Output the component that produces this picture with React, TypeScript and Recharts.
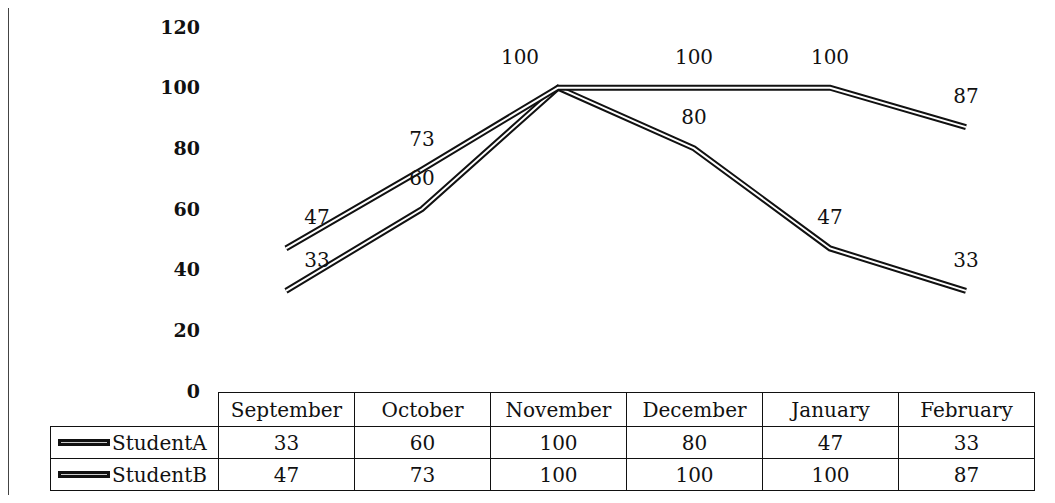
import { ComposedChart, Line, XAxis, YAxis, LabelList } from 'recharts';

const months = ['September', 'October', 'November', 'December', 'January', 'February'];
const studentA = [33, 60, 100, 80, 47, 33];
const studentB = [47, 73, 100, 100, 100, 87];
const yTicks = [0, 20, 40, 60, 80, 100, 120];

// label nudges per month, so overlapping values stay readable
const labelShift = [31, 0, -38, 0, 0, 0];

const FONT = '"DejaVu Serif", "Liberation Serif", serif';
const W = 1055;
const H = 503;
const PLOT_LEFT = 218;
const PLOT_RIGHT = 1035;
const COL_W = Math.round((PLOT_RIGHT - PLOT_LEFT) / months.length);

const data = months.map((m, i) => ({ month: m, a: studentA[i], b: studentB[i] }));

const makeLabel = (skipSameAsB: boolean) => (props: any) => {
  const { x, y, value, index } = props;
  // where both students share a value only one label is printed
  if (skipSameAsB && studentB[index] === value) return null;
  return (
    <text
      x={x + (labelShift[index] || 0)}
      y={y - 31}
      textAnchor="middle"
      dominantBaseline="central"
      fontFamily={FONT}
      fontSize={20}
      fill="#111"
    >
      {value}
    </text>
  );
};

function LegendIcon() {
  return (
    <svg width={52} height={8} style={{ display: 'block' }}>
      <rect x={0} y={0} width={52} height={7} fill="#111" />
      <rect x={3} y={3} width={46} height={1} fill="#ccc" />
    </svg>
  );
}

const cell: React.CSSProperties = {
  position: 'absolute',
  border: '1px solid #111',
  boxSizing: 'border-box',
  display: 'flex',
  alignItems: 'center',
  justifyContent: 'center',
  fontFamily: FONT,
  fontSize: 20,
  color: '#111',
};

export default function App() {
  const rows = [
    { name: 'StudentA', values: studentA },
    { name: 'StudentB', values: studentB },
  ];
  const plotRight = PLOT_LEFT + COL_W * months.length;
  return (
    <div style={{ position: 'relative', width: W, height: H, margin: -8, background: '#fff', overflow: 'hidden' }}>
      <div style={{ position: 'absolute', left: 7, top: 0, width: 1.5, height: H, background: '#444' }} />
      <ComposedChart
        width={W}
        height={H}
        data={data}
        margin={{ top: 27, right: W - plotRight, bottom: 0, left: 0 }}
        style={{ position: 'absolute', left: 0, top: 0 }}
      >
        <XAxis
          dataKey="month"
          height={112}
          tick={false}
          axisLine={false}
          tickLine={false}
          padding={{ left: COL_W / 2, right: COL_W / 2 }}
        />
        <YAxis
          width={PLOT_LEFT}
          domain={[0, 120]}
          ticks={yTicks}
          axisLine={false}
          tickLine={false}
          tickMargin={12}
          tick={{ fontFamily: FONT, fontSize: 19, fontWeight: 'bold', fill: '#111' }}
        />
        <Line dataKey="a" stroke="#111" strokeWidth={6} dot={false} isAnimationActive={false} strokeLinejoin="miter" />
        <Line dataKey="a" stroke="#fff" strokeWidth={2} dot={false} isAnimationActive={false} strokeLinejoin="miter" />
        <Line dataKey="b" stroke="#111" strokeWidth={6} dot={false} isAnimationActive={false} strokeLinejoin="miter" />
        <Line dataKey="b" stroke="#fff" strokeWidth={2} dot={false} isAnimationActive={false} strokeLinejoin="miter">
          <LabelList dataKey="b" content={makeLabel(false)} />
        </Line>
        <Line dataKey="a" stroke="none" dot={false} isAnimationActive={false} legendType="none">
          <LabelList dataKey="a" content={makeLabel(true)} />
        </Line>
      </ComposedChart>

      {months.map((m, i) => (
        <div key={m} style={{ ...cell, left: PLOT_LEFT + i * COL_W, top: 392, width: COL_W + 1, height: 35 }}>
          {m}
        </div>
      ))}
      {rows.map((r, ri) => (
        <div key={r.name}>
          <div
            style={{
              ...cell,
              left: 50,
              top: 426 + ri * 32,
              width: PLOT_LEFT - 50 + 1,
              height: 33,
              justifyContent: 'flex-start',
              paddingLeft: 7,
              gap: 2,
            }}
          >
            <LegendIcon />
            <span>{r.name}</span>
          </div>
          {r.values.map((v, i) => (
            <div key={i} style={{ ...cell, left: PLOT_LEFT + i * COL_W, top: 426 + ri * 32, width: COL_W + 1, height: 33 }}>
              {v}
            </div>
          ))}
        </div>
      ))}
    </div>
  );
}
